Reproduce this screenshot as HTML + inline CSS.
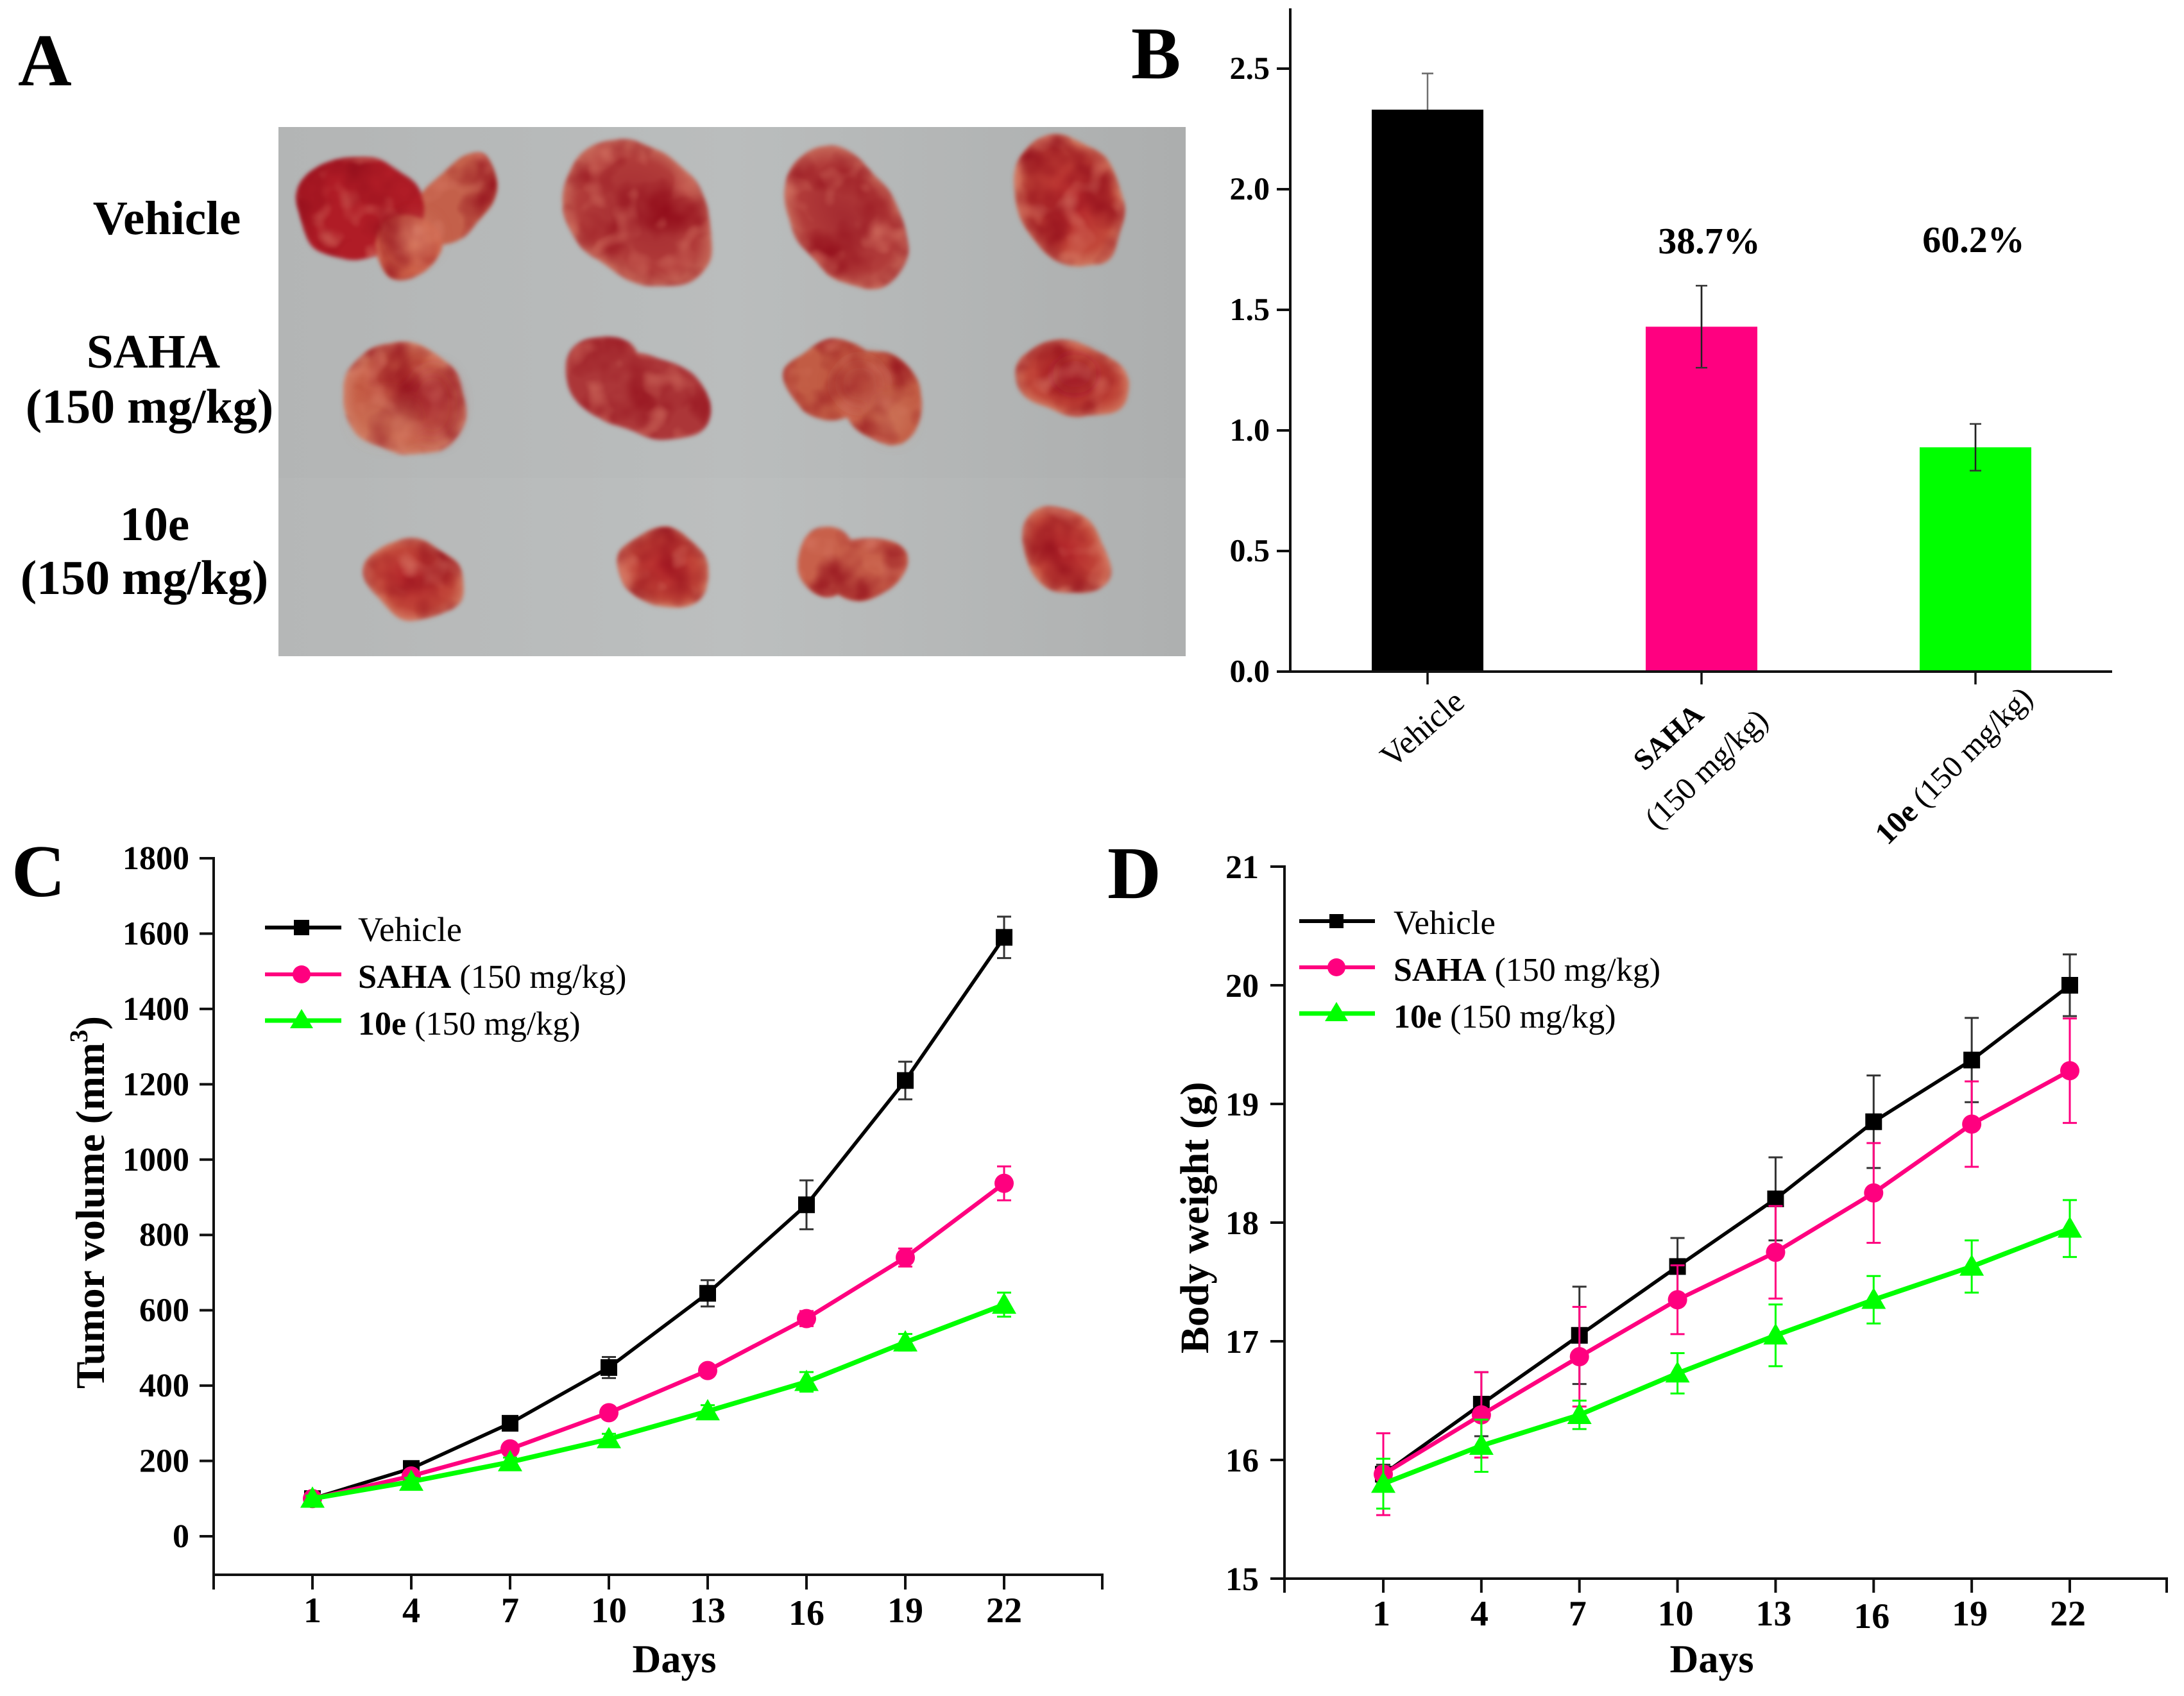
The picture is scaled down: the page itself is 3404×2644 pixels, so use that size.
<!DOCTYPE html>
<html lang="en">
<head>
<meta charset="utf-8">
<title>Antitumor activity figure</title>
<style>
html,body{margin:0;padding:0;background:#fff;width:3404px;height:2644px;overflow:hidden}
svg{display:block;font-family:"Liberation Serif",serif}
text{fill:#000;text-rendering:geometricPrecision}
.b{font-weight:bold}
.letter{font-size:116px;font-weight:bold}
.alabel{font-size:75px;font-weight:bold;text-anchor:middle}
.dose{font-size:76px;font-weight:bold;text-anchor:middle}
.leg{font-size:52px}
.title{font-size:62px;font-weight:bold}
</style>
</head>
<body>
<svg id="fig" xmlns="http://www.w3.org/2000/svg" width="3404" height="2644" viewBox="0 0 3404 2644">
<defs>
<filter id="mottle" x="-5%" y="-5%" width="110%" height="110%" color-interpolation-filters="sRGB">
  <feTurbulence type="fractalNoise" baseFrequency=".018" numOctaves="2" seed="7" result="warp"/>
  <feDisplacementMap in="SourceGraphic" in2="warp" scale="16" xChannelSelector="R" yChannelSelector="G" result="shaped"/>
  <feGaussianBlur in="shaped" stdDeviation="1.2" result="base"/>
  <feTurbulence type="fractalNoise" baseFrequency=".03" numOctaves="3" seed="4" result="n1"/>
  <feColorMatrix in="n1" type="matrix" values="0 0 0 0 .58  0 0 0 0 .06  0 0 0 0 .11  2.2 0 0 0 -.9" result="dark"/>
  <feComposite in="dark" in2="base" operator="in" result="darkClip"/>
  <feTurbulence type="fractalNoise" baseFrequency=".05" numOctaves="2" seed="11" result="n2"/>
  <feColorMatrix in="n2" type="matrix" values="0 0 0 0 .86  0 0 0 0 .5  0 0 0 0 .42  0 1.8 0 0 -.95" result="light"/>
  <feComposite in="light" in2="base" operator="in" result="lightClip"/>
  <feMerge result="merged"><feMergeNode in="base"/><feMergeNode in="darkClip"/><feMergeNode in="lightClip"/></feMerge>
  <feGaussianBlur in="merged" stdDeviation=".8"/>
</filter>
<filter id="soft2" x="-40%" y="-40%" width="180%" height="180%"><feGaussianBlur stdDeviation="6"/></filter>
<linearGradient id="bgtop" x1="0" y1="0" x2="1" y2="0"><stop offset="0" stop-color="#b3b5b5"/><stop offset=".5" stop-color="#babdbd"/><stop offset="1" stop-color="#acaeae"/></linearGradient>
<linearGradient id="bgbot" x1="0" y1="0" x2="1" y2="0"><stop offset="0" stop-color="#b5b7b7"/><stop offset=".5" stop-color="#bcbfbf"/><stop offset="1" stop-color="#aeb0b0"/></linearGradient>
<radialGradient id="tA"><stop offset="0" stop-color="#a42a30"/><stop offset=".78" stop-color="#b23c3a"/><stop offset="1" stop-color="#c66a5a"/></radialGradient>
<radialGradient id="tB"><stop offset="0" stop-color="#b53a34"/><stop offset=".75" stop-color="#c65e46"/><stop offset="1" stop-color="#d08068"/></radialGradient>
<radialGradient id="tC"><stop offset="0" stop-color="#b4242a"/><stop offset=".78" stop-color="#c2483a"/><stop offset="1" stop-color="#cf7860"/></radialGradient>
</defs>

<text class="letter" x="28" y="133">A</text>
<text class="letter" x="1763" y="122">B</text>
<text class="letter" x="18" y="1397">C</text>
<text class="letter" x="1726" y="1400">D</text>

<g>
  <rect x="434" y="198" width="1414" height="547" fill="url(#bgtop)"/>
  <rect x="434" y="745" width="1414" height="278" fill="url(#bgbot)"/>
  <g transform="scale(2.1755)">
    <g filter="url(#mottle)">
      <ellipse cx="326" cy="143" rx="35" ry="24" transform="rotate(-55 326 143)" fill="#c4604a"/>
      <ellipse cx="258" cy="148" rx="47" ry="36" fill="#b01c26"/>
      <ellipse cx="292" cy="176" rx="24" ry="24" fill="#cc6048"/>
      <ellipse cx="458" cy="153" rx="60" ry="45" transform="rotate(45 458 153)" fill="url(#tA)"/>
      <ellipse cx="606" cy="157" rx="54" ry="38" transform="rotate(62 606 157)" fill="url(#tA)"/>
      <ellipse cx="766" cy="144" rx="50" ry="37" transform="rotate(65 766 144)" fill="url(#tC)"/>
      <ellipse cx="290" cy="287" rx="48" ry="38" transform="rotate(35 290 287)" fill="url(#tB)"/>
      <ellipse cx="434" cy="269" rx="28" ry="30" fill="#ac3638"/>
      <ellipse cx="462" cy="284" rx="51" ry="28" transform="rotate(15 462 284)" fill="#ac3638"/>
      <ellipse cx="600" cy="272" rx="38" ry="27" fill="#c25c44"/>
      <ellipse cx="632" cy="284" rx="38" ry="28" transform="rotate(62 632 284)" fill="#c25c44"/>
      <ellipse cx="768" cy="271" rx="40" ry="29" transform="rotate(10 768 271)" fill="url(#tC)"/>
      <ellipse cx="296" cy="416" rx="37" ry="27" transform="rotate(15 296 416)" fill="url(#tC)"/>
      <ellipse cx="475" cy="408" rx="33" ry="27" transform="rotate(20 475 408)" fill="url(#tC)"/>
      <ellipse cx="592" cy="400" rx="20" ry="25" fill="#c8604a"/>
      <ellipse cx="620" cy="408" rx="33" ry="22" fill="#c8604a"/>
      <ellipse cx="763" cy="395" rx="38" ry="27" transform="rotate(50 763 395)" fill="url(#tC)"/>
    </g>
    <g filter="url(#soft2)">
      <ellipse cx="310" cy="290" rx="18" ry="26" fill="#a82c30" opacity=".45"/>
      <ellipse cx="275" cy="300" rx="20" ry="16" fill="#d8906c" opacity=".35"/>
      <ellipse cx="298" cy="170" rx="14" ry="14" fill="#e49a80" opacity=".4"/>
      <ellipse cx="640" cy="300" rx="12" ry="14" fill="#dc9274" opacity=".35"/>
      <ellipse cx="616" cy="275" rx="18" ry="18" fill="#a8302e" opacity=".4"/>
      <ellipse cx="770" cy="268" rx="16" ry="14" fill="#981c26" opacity=".35"/>
    </g>
  </g>
</g>
<text class="alabel" x="260" y="365">Vehicle</text>
<text class="alabel" x="239" y="573">SAHA</text>
<text class="dose" x="233" y="659">(150 mg/kg)</text>
<text class="alabel" x="241" y="842">10e</text>
<text class="dose" x="225" y="926">(150 mg/kg)</text>

<!-- Panel B static text -->
<text x="2664" y="395" class="b" font-size="58" text-anchor="middle">38.7%</text>
<text x="3076" y="393" class="b" font-size="58" text-anchor="middle">60.2%</text>
<text transform="translate(2170 1199) rotate(-41)" font-size="51">Vehicle</text>
<text transform="translate(2563 1203) rotate(-42)" font-size="46" class="b">SAHA</text>
<text transform="translate(2583 1295) rotate(-44)" font-size="49">(150 mg/kg)</text>
<text transform="translate(2942 1319) rotate(-45)" font-size="48.5"><tspan class="b">10e</tspan> (150 mg/kg)</text>

<!-- Panel C titles and legend -->
<text transform="translate(162 2165) rotate(-90)" class="title" style="font-size:63.5px">Tumor volume (mm<tspan style="font-size:40px" dy="-26">3</tspan><tspan dy="26">)</tspan></text>
<text x="1051" y="2607" class="title" text-anchor="middle">Days</text>
<g>
  <line x1="413" y1="1446" x2="532" y2="1446" stroke="#000" stroke-width="6"/>
  <rect x="458" y="1434" width="24" height="24" fill="#000"/>
  <text x="558" y="1467" class="leg" style="font-size:54px">Vehicle</text>
  <line x1="413" y1="1519" x2="532" y2="1519" stroke="#ff007f" stroke-width="6"/>
  <circle cx="470" cy="1519" r="14" fill="#ff007f"/>
  <text x="558" y="1540" class="leg" style="font-size:52.3px"><tspan class="b">SAHA</tspan> (150 mg/kg)</text>
  <line x1="413" y1="1591" x2="532" y2="1591" stroke="#00ff00" stroke-width="7"/>
  <polygon points="470,1573 488,1603 452,1603" fill="#00ff00"/>
  <text x="558" y="1613" class="leg"><tspan class="b">10e</tspan> (150 mg/kg)</text>
</g>

<!-- Panel D titles and legend -->
<text transform="translate(1883 2110) rotate(-90)" class="title" style="font-size:63px">Body weight (g)</text>
<text x="2668" y="2607" class="title" text-anchor="middle">Days</text>
<g>
  <line x1="2025" y1="1436" x2="2143" y2="1436" stroke="#000" stroke-width="6"/>
  <rect x="2072" y="1425" width="22" height="22" fill="#000"/>
  <text x="2172" y="1456" class="leg" style="font-size:53px">Vehicle</text>
  <line x1="2025" y1="1508" x2="2143" y2="1508" stroke="#ff007f" stroke-width="6"/>
  <circle cx="2083" cy="1508" r="14" fill="#ff007f"/>
  <text x="2172" y="1529" class="leg"><tspan class="b">SAHA</tspan> (150 mg/kg)</text>
  <line x1="2025" y1="1580" x2="2143" y2="1580" stroke="#00ff00" stroke-width="7"/>
  <polygon points="2083,1562 2101,1592 2065,1592" fill="#00ff00"/>
  <text x="2172" y="1602" class="leg"><tspan class="b">10e</tspan> (150 mg/kg)</text>
</g>
</svg>

<script>
// Panel B: tumor weight
const barValues = [2.33, 1.43, 0.93];
const barErrors = [0.15, 0.17, 0.097];
const barColors = ['#000000', '#ff0080', '#00ff00'];
const barSlots = [0, 1, 2];
const barTicks = ['0.0', '0.5', '1.0', '1.5', '2.0', '2.5'];

// Panels C and D share the days axis
const days = [1, 4, 7, 10, 13, 16, 19, 22];

// Panel C: tumor volume
const volumeTicks = [0, 200, 400, 600, 800, 1000, 1200, 1400, 1600, 1800];
const volumeVehicle = [100, 180, 300, 448, 645, 880, 1210, 1590];
const volumeVehicleErr = [12, 10, 12, 28, 35, 65, 50, 55];
const volumeSaha = [100, 160, 232, 328, 440, 578, 740, 937];
const volumeSahaErr = [15, 8, 10, 12, 12, 20, 24, 45];
const volume10e = [100, 145, 197, 258, 332, 410, 515, 615];
const volume10eErr = [8, 10, 12, 14, 16, 26, 22, 32];

// Panel D: body weight
const weightTicks = [15, 16, 17, 18, 19, 20, 21];
const weightVehicle = [15.88, 16.47, 17.05, 17.63, 18.20, 18.85, 19.37, 20.00];
const weightVehicleErr = [0.08, 0.27, 0.41, 0.24, 0.35, 0.39, 0.355, 0.26];
const weightSaha = [15.88, 16.38, 16.87, 17.35, 17.75, 18.25, 18.83, 19.28];
const weightSahaErr = [0.345, 0.36, 0.42, 0.29, 0.39, 0.42, 0.36, 0.44];
const weight10e = [15.80, 16.12, 16.38, 16.73, 17.05, 17.35, 17.63, 17.95];
const weight10eErr = [0.21, 0.22, 0.12, 0.17, 0.26, 0.20, 0.22, 0.24];

const svg = document.getElementById('fig');
const NS = 'http://www.w3.org/2000/svg';

function make(tag, attrs, parent) {
  const el = document.createElementNS(NS, tag);
  for (const k in attrs) el.setAttribute(k, attrs[k]);
  (parent || svg).appendChild(el);
  return el;
}
function seg(x1, y1, x2, y2, w, color, parent) {
  return make('line', {x1: x1, y1: y1, x2: x2, y2: y2, stroke: color, 'stroke-width': w}, parent);
}

/* ---------- Panel B ---------- */
const yB = v => 1047 - v * 376;
const xB = i => 2225 + i * 427;
const groupB = make('g', {});


barSlots.forEach(i => {
  const top = yB(barValues[i]);
  const up = yB(barValues[i] + barErrors[i]);
  const down = yB(barValues[i] - barErrors[i]);
  const stemColor = i === 0 ? '#707070' : '#222';
  const capColor = i === 0 ? '#666' : '#333';
  const stem = seg(xB(i), up, xB(i), down, 2.5, stemColor, groupB);
  
  
  const capBottom = seg(xB(i) - 9, down, xB(i) + 9, down, 2.5, capColor, groupB);
  
  
  const bar = make('rect', {x: xB(i) - 87, y: top, width: 174, height: 1047 - top, fill: barColors[i]}, groupB);
  
  
  if (i !== 0) {
    const overStem = seg(xB(i), up, xB(i), down, 2.5, stemColor, groupB);
    
    
    const overCap = seg(xB(i) - 9, down, xB(i) + 9, down, 2.5, capColor, groupB);
    
    
  }
  const capTop = seg(xB(i) - 9, up, xB(i) + 9, up, 2.5, capColor, groupB);
  
  
  const tick = seg(xB(i), 1047, xB(i), 1067, 3.5, '#111', groupB);
  
  
});
const axisBY = seg(2011, 13, 2011, 1049, 4, '#111', groupB);


const axisBX = seg(1990, 1047, 3292, 1047, 4, '#111', groupB);


barTicks.forEach(t => {
  const y = yB(parseFloat(t));
  const tick = seg(1990, y, 2011, y, 4, '#111', groupB);
  
  
  const label = make('text', {x: 1979, y: y + 16, 'text-anchor': 'end', 'font-size': 50, 'font-weight': 'bold'}, groupB);
  label.textContent = t;
  
  
});

/* ---------- Line panels ---------- */
function marker(kind, cx, cy, size, color, parent) {
  if (kind === 'square') {
    return make('rect', {x: cx - size, y: cy - size, width: size * 2, height: size * 2, fill: color}, parent);
  }
  if (kind === 'circle') {
    return make('circle', {cx: cx, cy: cy, r: size + 2, fill: color}, parent);
  }
  const s = size + 6;
  return make('polygon', {points: (cx) + ',' + (cy - s) + ' ' + (cx + s) + ',' + (cy + s * 0.75) + ' ' + (cx - s) + ',' + (cy + s * 0.75), fill: color}, parent);
}

function drawSeries(parent, xOf, yOf, values, errors, kind, color, lineWidth, size) {
  const g = make('g', {}, parent);
  
  
  days.forEach((d, i) => {
    const x = xOf(d);
    const up = yOf(values[i] + errors[i]);
    const down = yOf(values[i] - errors[i]);
    const stem = seg(x, up, x, down, 3, color === '#000000' ? '#333' : color, g);
    
    
    const capA = seg(x - 11, up, x + 11, up, 3, color === '#000000' ? '#333' : color, g);
    
    
    const capB = seg(x - 11, down, x + 11, down, 3, color === '#000000' ? '#333' : color, g);
    
    
  });
  const pts = days.map((d, i) => xOf(d) + ',' + yOf(values[i])).join(' ');
  const line = make('polyline', {points: pts, fill: 'none', stroke: color, 'stroke-width': lineWidth, 'stroke-linejoin': 'round'}, g);
  
  
  days.forEach((d, i) => {
    const m = marker(kind, xOf(d), yOf(values[i]), size, color, g);
    
    
  });
}

function drawAxes(parent, x0, xEnd, yBase, yTop, yLow, tickLeft, tickBottom, xOf, yOf, ticks, xLabelBase, xLabelShift, yLabelRight, yLabelShift) {
  const ay = seg(x0, yTop - 2, x0, tickBottom, 4, '#111', parent);
  
  
  const ax = seg(yLow, yBase, xEnd + 2, yBase, 4, '#111', parent);
  
  
  const endTick = seg(xEnd, yBase, xEnd, tickBottom, 4, '#111', parent);
  
  
  ticks.forEach(t => {
    const y = yOf(t);
    const tick = seg(tickLeft, y, x0, y, 4, '#111', parent);
    
    
    const label = make('text', {x: yLabelRight, y: y + yLabelShift, 'text-anchor': 'end', 'font-size': 52, 'font-weight': 'bold'}, parent);
    label.textContent = String(t);
    
    
  });
  days.forEach(d => {
    const x = xOf(d);
    const tick = seg(x, yBase, x, tickBottom, 4, '#111', parent);
    
    
    const label = make('text', {x: x + xLabelShift, y: xLabelBase + (d === 16 ? 4 : 0), 'text-anchor': 'middle', 'font-size': 56, 'font-weight': 'bold'}, parent);
    label.textContent = String(d);
    
    
  });
}

/* ---------- Panel C ---------- */
const xC = d => 487 + (d - 1) * (1565 - 487) / 21;
const yC = v => 2395 - v * (2395 - 1338) / 1800;
const groupC = make('g', {});


drawAxes(groupC, 333, 1718, 2455, 1338, 333, 311, 2478, xC, yC, volumeTicks, 2529, 0, 295, 17);
drawSeries(groupC, xC, yC, volumeVehicle, volumeVehicleErr, 'square', '#000000', 5.5, 13);
drawSeries(groupC, xC, yC, volumeSaha, volumeSahaErr, 'circle', '#ff007f', 6.5, 13);
drawSeries(groupC, xC, yC, volume10e, volume10eErr, 'triangle', '#00ff00', 7.5, 13);

/* ---------- Panel D ---------- */
const xD = d => 2156 + (d - 1) * (3226 - 2156) / 21;
const yD = v => 2461 - (v - 15) * (2461 - 1351) / 6;
const groupD = make('g', {});


drawAxes(groupD, 2002, 3377, 2461, 1351, 2002, 1980, 2483, xD, yD, weightTicks, 2534, -3, 1962, 18);
drawSeries(groupD, xD, yD, weightVehicle, weightVehicleErr, 'square', '#000000', 5.5, 13);
drawSeries(groupD, xD, yD, weightSaha, weightSahaErr, 'circle', '#ff007f', 6.5, 13);
drawSeries(groupD, xD, yD, weight10e, weight10eErr, 'triangle', '#00ff00', 7.5, 13);
</script>
</body>
</html>
